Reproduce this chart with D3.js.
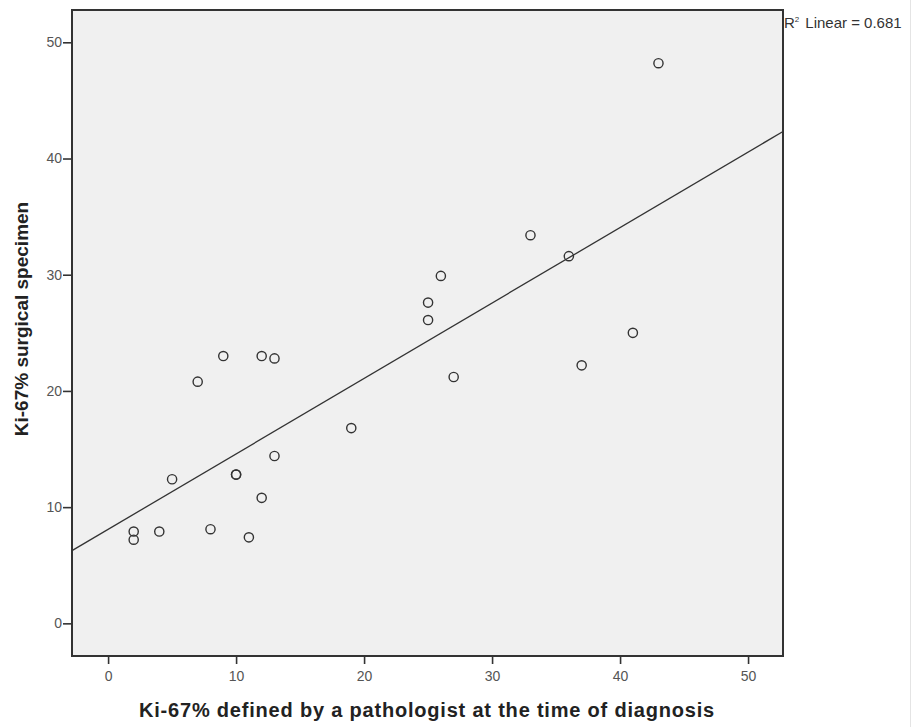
<!DOCTYPE html>
<html>
<head>
<meta charset="utf-8">
<script src="https://cdn.jsdelivr.net/npm/d3@7/dist/d3.min.js"></script>
<style>
  body { margin: 0; background: #fff; }
  svg { display: block; font-family: "Liberation Sans", Arial, sans-serif; }
</style>
</head>
<body>
<div id="chart"></div>
<script>
// Ki-67% at diagnosis (x) vs surgical specimen (y)
const diagnosis = [9, 12, 13, 7, 13, 5, 10, 10, 12, 2, 2, 4, 8, 11,
    26, 25, 25, 27, 19, 43, 33, 36, 41, 37];
const surgical = [23, 23, 22.8, 20.8, 14.4, 12.4, 12.8, 12.8, 10.8, 7.9, 7.2, 7.9, 8.1, 7.4,
    29.9, 27.6, 26.1, 21.2, 16.8, 48.2, 33.4, 31.6, 25, 22.2];
const xTicks = [0, 10, 20, 30, 40, 50];
const yTicks = [0, 10, 20, 30, 40, 50];
const r2Label = "0.681";

const svg = d3.select("#chart")
    .append("svg")
    .attr("width", 911)
    .attr("height", 727);

const margin = {top: 10, left: 72, right: 128, bottom: 71};
const width = 911 - margin.left - margin.right;
const height = 727 - margin.top - margin.bottom;

const xScale = d3.scaleLinear().domain([-2.82, 52.73]).range([0, width]);
const yScale = d3.scaleLinear().domain([-2.81, 52.78]).range([height, 0]);

const chart = svg.append("g").attr("transform", `translate(${margin.left},${margin.top})`);

chart.append("rect")
    .attr("width", width)
    .attr("height", height)
    .attr("fill", "#f0f0f0");

// Fit line (least squares)
const points = diagnosis.map((d, i) => ({x: d, y: surgical[i]}));
const mx = d3.mean(points, p => p.x);
const my = d3.mean(points, p => p.y);
const slope = d3.sum(points, p => (p.x - mx) * (p.y - my)) / d3.sum(points, p => (p.x - mx) ** 2);
const intercept = my - slope * mx;
const [x0, x1] = xScale.domain();

chart.append("line")
    .attr("x1", xScale(x0))
    .attr("y1", yScale(intercept + slope * x0))
    .attr("x2", xScale(x1))
    .attr("y2", yScale(intercept + slope * x1))
    .attr("stroke", "#333")
    .attr("stroke-width", 1.3);

chart.selectAll("circle")
    .data(points)
    .join("circle")
    .attr("cx", p => xScale(p.x))
    .attr("cy", p => yScale(p.y))
    .attr("r", 4.6)
    .attr("fill", "none")
    .attr("stroke", "#333")
    .attr("stroke-width", 1.4);

// Axes
const xAxis = chart.append("g")
    .attr("transform", `translate(0,${height})`)
    .call(d3.axisBottom(xScale).tickValues(xTicks).tickSize(8).tickPadding(7));
const yAxis = chart.append("g")
    .call(d3.axisLeft(yScale).tickValues(yTicks).tickSize(9).tickPadding(1));
[xAxis, yAxis].forEach(ax => {
    ax.select(".domain").remove();
    ax.selectAll("line").attr("stroke", "#333").attr("stroke-width", 1.6);
    ax.selectAll("text").attr("fill", "#555").style("font-size", "14px")
        .style("font-family", "Liberation Sans, Arial, sans-serif");
});

// Frame
chart.append("rect")
    .attr("width", width)
    .attr("height", height)
    .attr("fill", "none")
    .attr("stroke", "#333")
    .attr("stroke-width", 2);

// Titles
svg.append("text")
    .attr("x", 427)
    .attr("y", 717)
    .attr("text-anchor", "middle")
    .attr("font-weight", "bold")
    .attr("font-size", 20)
    .attr("letter-spacing", 0.8)
    .attr("fill", "#222")
    .text("Ki-67% defined by a pathologist at the time of diagnosis");

svg.append("text")
    .attr("transform", "translate(28,319) rotate(-90)")
    .attr("text-anchor", "middle")
    .attr("font-weight", "bold")
    .attr("font-size", 19)
    .attr("fill", "#222")
    .text("Ki-67% surgical specimen");

const r2 = svg.append("text")
    .attr("x", margin.left + width + 1)
    .attr("y", 28)
    .attr("font-size", 15)
    .attr("fill", "#333");
r2.append("tspan").text("R");
r2.append("tspan").attr("font-size", 8).attr("dy", -6).text("2");
r2.append("tspan").attr("dy", 6).attr("dx", 6).text("Linear = " + r2Label);

// faint right edge
svg.append("line")
    .attr("x1", 910.5).attr("x2", 910.5)
    .attr("y1", 0).attr("y2", 727)
    .attr("stroke", "#e4e4e4");
</script>
</body>
</html>
